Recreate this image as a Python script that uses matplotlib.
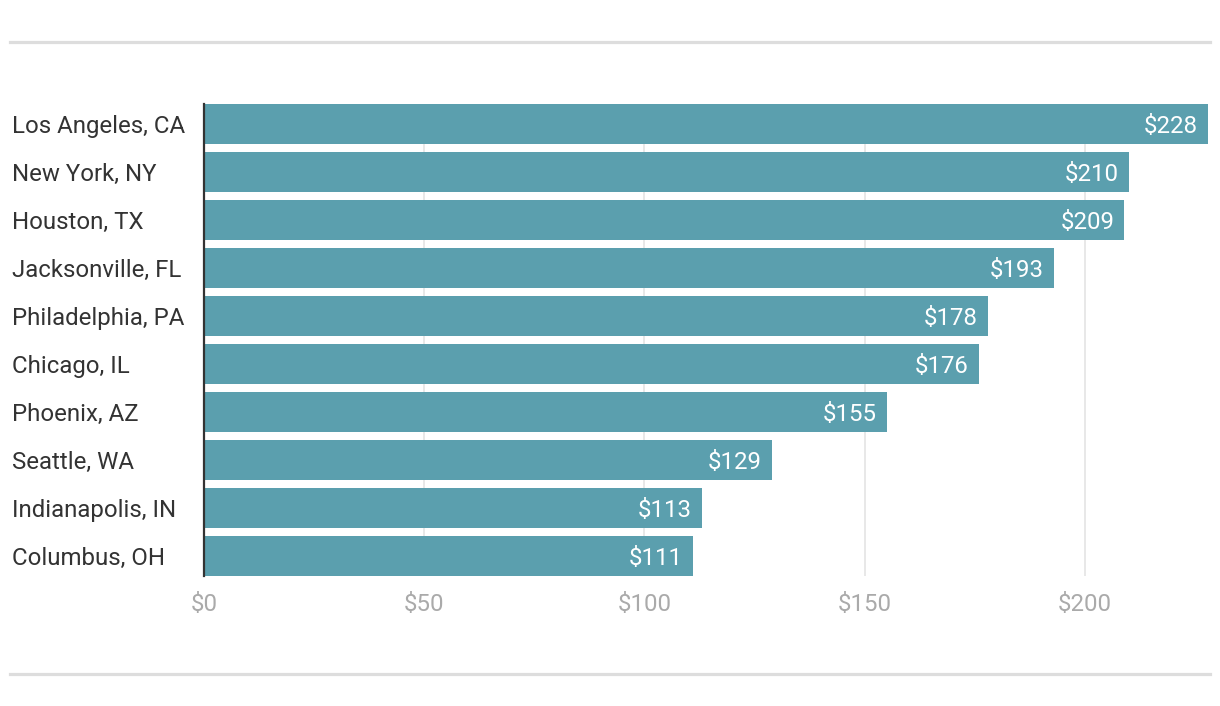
import matplotlib
matplotlib.use("Agg")
import matplotlib.pyplot as plt
import matplotlib.transforms as mtransforms
from matplotlib.lines import Line2D

cities = ["Los Angeles, CA", "New York, NY", "Houston, TX", "Jacksonville, FL",
          "Philadelphia, PA", "Chicago, IL", "Phoenix, AZ", "Seattle, WA",
          "Indianapolis, IN", "Columbus, OH"]
values = [228, 210, 209, 193, 178, 176, 155, 129, 113, 111]
xticks = [0, 50, 100, 150, 200]
xticklabels = ["$0", "$50", "$100", "$150", "$200"]

plt.rcParams['font.family'] = ['Roboto', 'DejaVu Sans']
FS = 17.3

W, H = 1220, 706
fig = plt.figure(figsize=(W / 100, H / 100), dpi=100)
ax = fig.add_axes([204 / W, (H - 576) / H, (1208 - 204) / W, (576 - 104) / H])

ypos = list(range(len(cities)))
ax.barh(ypos, values, height=0.833, color="#5b9fae", zorder=2)
ax.set_ylim(len(cities) - 1 + 0.4167, -0.4167)
ax.set_xlim(0, 228)

for y, v in zip(ypos, values):
    ax.text(v - 10 * 228 / 1004, y, f"${v}", ha="right", va="center_baseline",
            color="white", fontsize=FS, zorder=3)

trans = mtransforms.blended_transform_factory(fig.transFigure, ax.transData)
for y, c in zip(ypos, cities):
    ax.text(12 / W, y, c, transform=trans, ha="left", va="center_baseline",
            fontsize=FS, color="#333333")

ax.set_xticks(xticks)
ax.set_xticklabels(xticklabels, color="#aaaaaa", fontsize=FS)
ax.tick_params(axis="x", length=0, pad=12)
ax.set_yticks([])

ax.grid(axis="x", color="#e4e4e4", linewidth=1.2, zorder=0)
ax.grid(axis="y", visible=False)
for s in ["top", "right", "bottom"]:
    ax.spines[s].set_visible(False)
ax.spines["left"].set_color("#333333")
ax.spines["left"].set_linewidth(1.6)
ax.spines["left"].set_zorder(4)

for yy in [(H - 42) / H, (H - 673.5) / H]:
    fig.add_artist(Line2D([10 / W, 1210 / W], [yy, yy], transform=fig.transFigure,
                          color="#dddddd", linewidth=2.3))

fig.savefig("out.png", dpi=100)
